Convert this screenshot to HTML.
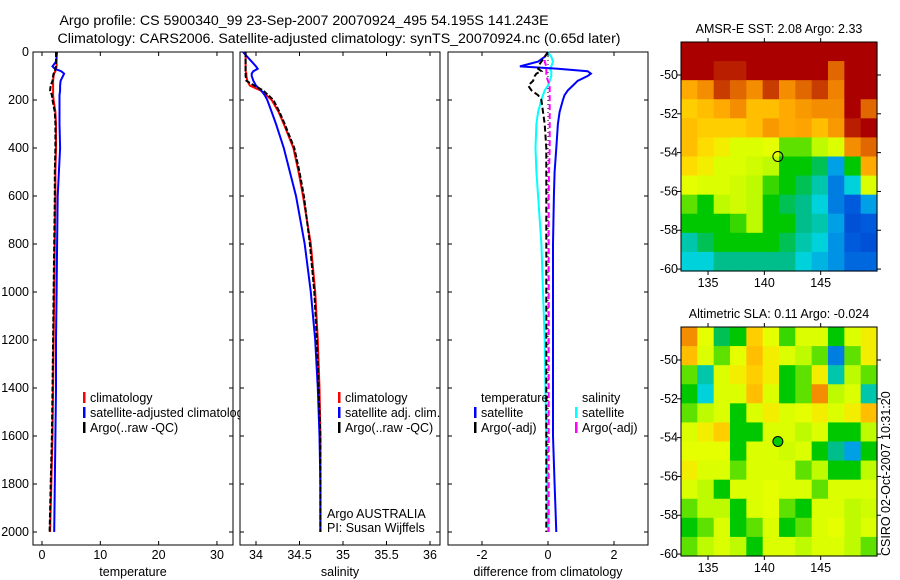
<!DOCTYPE html>
<html><head><meta charset="utf-8"><style>
body{margin:0;background:#fff}
svg{display:block;font-family:"Liberation Sans",sans-serif}
</style></head><body>
<svg id="fig" width="900" height="580" viewBox="0 0 900 580" xmlns="http://www.w3.org/2000/svg">
<defs><clipPath id="clipT"><rect x="0" y="0" width="240" height="580"/></clipPath></defs>
<text x="304" y="25" font-size="14.2" text-anchor="middle">Argo profile: CS 5900340_99 23-Sep-2007 20070924_495 54.195S 141.243E</text>
<text x="339" y="43" font-size="14.2" text-anchor="middle">Climatology: CARS2006. Satellite-adjusted climatology: synTS_20070924.nc (0.65d later)</text>
<text x="0" y="0" font-size="12.5" transform="translate(890,556) rotate(-90)">CSIRO 02-Oct-2007 10:31:20</text>
<g id="g"></g>
</svg>
<script>
// ---- profile data ----
const depths=[0,20,40,60,70,80,90,100,120,140,160,180,200,250,300,400,500,600,800,1000,1200,1400,1600,1800,2000];
const climT=[2.5,2.5,2.5,2.5,2.4,2.3,2.1,2.0,1.9,1.9,1.9,1.9,2.0,2.3,2.4,2.4,2.3,2.3,2.2,2.1,2.0,1.9,1.8,1.6,1.4];
const satT=[2.6,2.5,2.4,1.8,2.2,3.3,3.8,3.6,3.2,3.1,3.1,3.0,3.0,3.0,3.0,3.1,2.9,2.7,2.6,2.5,2.4,2.4,2.3,2.2,2.1];
const argoT=[2.4,2.4,2.4,2.4,2.3,2.2,2.0,1.9,1.8,1.5,1.4,1.7,1.8,2.2,2.3,2.3,2.2,2.2,2.1,2.0,1.9,1.8,1.7,1.5,1.3];
const climS=[33.88,33.88,33.88,33.88,33.88,33.88,33.89,33.89,33.9,33.93,34.05,34.12,34.18,34.26,34.32,34.43,34.49,34.54,34.63,34.68,34.71,34.73,34.74,34.74,34.74];
const satS=[33.85,33.9,33.95,34.0,34.02,33.97,33.95,33.95,33.97,34.0,34.06,34.1,34.13,34.18,34.23,34.32,34.39,34.46,34.56,34.63,34.68,34.71,34.73,34.74,34.74];
const argoS=[33.88,33.88,33.88,33.88,33.88,33.88,33.88,33.88,33.89,33.98,34.08,34.14,34.2,34.27,34.33,34.44,34.5,34.55,34.62,34.67,34.7,34.72,34.74,34.74,34.74];
const dSatT=[0,-0.1,-0.3,-0.85,0.3,1.2,1.3,1.2,0.9,0.75,0.6,0.5,0.45,0.35,0.3,0.25,0.2,0.18,0.15,0.15,0.15,0.15,0.15,0.2,0.25];
const dArgoT=[0,-0.1,-0.2,-0.3,-0.3,-0.2,-0.35,-0.4,-0.45,-0.6,-0.5,-0.3,-0.2,-0.15,-0.1,-0.05,-0.05,-0.05,-0.05,-0.05,-0.05,-0.05,-0.05,-0.05,-0.05];
const dSatS=[0,0.1,0.15,0.1,0.05,0.1,0.1,0.1,0.05,0,-0.1,-0.15,-0.2,-0.3,-0.35,-0.38,-0.35,-0.3,-0.2,-0.15,-0.1,-0.08,-0.05,-0.02,0];
const dArgoS=[0,-0.1,-0.1,-0.05,-0.05,-0.05,-0.05,-0.05,0,0.05,0.05,0.05,0.05,0.05,0.05,0.05,0.03,0.02,0.02,0.02,0.02,0.02,0.02,0.02,0.02];
const depthTicks=[0,200,400,600,800,1000,1200,1400,1600,1800,2000];
const tempTicks=[0,10,20,30];
const salTicks=[34,34.5,35,35.5,36];
const diffTicks=[-2,0,2];
// ---- map data (colormap index 0..1), rows north->south ----
const sstGrid=[
[1,1,1,1,1,1,1,1,1,1,1,1],
[1,1,0.95,0.95,1,1,1,1,1,0.85,1,1],
[0.75,0.8,0.9,0.85,0.8,0.9,0.8,0.85,0.9,0.82,1,1],
[0.7,0.72,0.75,0.8,0.72,0.72,0.75,0.78,0.8,0.8,1,0.85],
[0.72,0.7,0.7,0.7,0.72,0.78,0.75,0.76,0.72,0.78,0.95,1],
[0.72,0.68,0.65,0.6,0.6,0.62,0.5,0.5,0.55,0.6,0.8,0.85],
[0.68,0.65,0.6,0.6,0.58,0.55,0.45,0.45,0.42,0.3,0.45,0.75],
[0.62,0.6,0.6,0.58,0.55,0.48,0.45,0.42,0.38,0.25,0.35,0.6],
[0.5,0.45,0.55,0.58,0.55,0.45,0.42,0.4,0.35,0.25,0.2,0.3],
[0.45,0.45,0.45,0.48,0.55,0.45,0.45,0.4,0.38,0.3,0.18,0.2],
[0.38,0.42,0.45,0.45,0.45,0.45,0.42,0.38,0.35,0.28,0.2,0.18],
[0.35,0.35,0.4,0.4,0.4,0.4,0.4,0.35,0.32,0.28,0.22,0.22]];
const slaGrid=[
[0.8,0.62,0.42,0.45,0.7,0.62,0.48,0.6,0.6,0.45,0.6,0.65],
[0.72,0.6,0.5,0.62,0.72,0.65,0.6,0.55,0.5,0.25,0.5,0.65],
[0.5,0.38,0.6,0.65,0.7,0.65,0.45,0.5,0.65,0.38,0.55,0.5],
[0.45,0.35,0.6,0.6,0.72,0.6,0.45,0.5,0.8,0.55,0.6,0.38],
[0.5,0.55,0.6,0.45,0.6,0.65,0.6,0.62,0.65,0.6,0.65,0.72],
[0.6,0.65,0.7,0.45,0.45,0.6,0.6,0.55,0.6,0.45,0.45,0.55],
[0.62,0.62,0.62,0.45,0.6,0.6,0.58,0.6,0.45,0.4,0.3,0.45],
[0.65,0.6,0.6,0.5,0.6,0.6,0.6,0.5,0.55,0.45,0.45,0.55],
[0.6,0.55,0.45,0.6,0.6,0.62,0.6,0.6,0.5,0.6,0.6,0.6],
[0.5,0.55,0.55,0.45,0.6,0.62,0.5,0.45,0.6,0.6,0.55,0.58],
[0.45,0.5,0.6,0.45,0.5,0.6,0.45,0.5,0.6,0.62,0.55,0.6],
[0.5,0.55,0.6,0.55,0.45,0.6,0.6,0.55,0.6,0.6,0.55,0.5]];
const lonTicks=[135,140,145];
const latTicks=[-50,-52,-54,-56,-58,-60];
const floatLon=141.2, floatLat=-54.2;

const NS='http://www.w3.org/2000/svg';
const G=document.getElementById('g');
function mk(tag,attrs,parent,txt){const e=document.createElementNS(NS,tag);for(const k in attrs)e.setAttribute(k,attrs[k]);if(txt!==undefined)e.textContent=txt;(parent||G).appendChild(e);return e;}

const yTop=52, yBot=545, yScale=0.24;
const yD=d=>yTop+d*yScale;
const panels=[
 {name:'temperature',x0:33,x1:233,vmin:-1.54,vmax:32.75,ticks:tempTicks,label:'temperature'},
 {name:'salinity',x0:240,x1:440,vmin:33.816,vmax:36.115,ticks:salTicks,label:'salinity'},
 {name:'difference',x0:448,x1:648,vmin:-3.03,vmax:3.03,ticks:diffTicks,label:'difference from climatology'}];
panels.forEach(p=>{p.x=v=>p.x0+(v-p.vmin)/(p.vmax-p.vmin)*(p.x1-p.x0);});

function line(p,vals,color,dash,name,w){
  const pts=vals.map((v,i)=>p.x(v).toFixed(1)+','+yD(depths[i]).toFixed(1)).join(' ');
  const el=mk('polyline',{points:pts,fill:'none',stroke:color,'stroke-width':w||2});
  if(dash)el.setAttribute('stroke-dasharray',dash);
  
  
}
panels.forEach((p,pi)=>{
  const fr=mk('rect',{x:p.x0,y:yTop,width:p.x1-p.x0,height:yBot-yTop,fill:'#fff',stroke:'#000','stroke-width':1});
  
  
  p.ticks.forEach(t=>{
    const x=p.x(t);
    mk('line',{x1:x,x2:x,y1:yBot,y2:yBot-4,stroke:'#000'});
    mk('line',{x1:x,x2:x,y1:yTop,y2:yTop+4,stroke:'#000'});
    const tl=mk('text',{x:x,y:yBot+14,'font-size':12.5,'text-anchor':'middle'},G,String(t));
    
    
  });
  depthTicks.forEach(d=>{
    mk('line',{x1:p.x0,x2:p.x0+4,y1:yD(d),y2:yD(d),stroke:'#000'});
    mk('line',{x1:p.x1,x2:p.x1-4,y1:yD(d),y2:yD(d),stroke:'#000'});
  });
  const at=mk('text',{x:(p.x0+p.x1)/2,y:576,'font-size':12.5,'text-anchor':'middle'},G,p.label);
  
  
});
depthTicks.forEach(d=>{
  const t=mk('text',{x:29,y:yD(d)+4,'font-size':12.5,'text-anchor':'end'},G,String(d));
  
  
});
const [pT,pS,pD]=panels;
line(pT,climT,'#f00',null,'temp-climatology-line');
line(pT,satT,'#00f',null,'temp-satellite-line');
line(pT,argoT,'#000','5,2','temp-argo-line');
line(pS,climS,'#f00',null,'sal-climatology-line');
line(pS,satS,'#00f',null,'sal-satellite-line');
line(pS,argoS,'#000','5,2','sal-argo-line');
mk('line',{x1:pD.x(0),x2:pD.x(0),y1:yTop,y2:yD(2000),stroke:'#000','stroke-dasharray':'1,3'});
line(pD,dSatS,'#0ff',null,'diff-sal-satellite-line');
line(pD,dSatT,'#00f',null,'diff-temp-satellite-line');
line(pD,dArgoS,'#f0f','6,3','diff-sal-argo-line');
line(pD,dArgoT,'#000','6,3','diff-temp-argo-line');

function legend(x,y,color,label,name,clip){
  if(color){const b=mk('rect',{x:x,y:y-10,width:2.5,height:11,fill:color});}
  const t=mk('text',{x:x+7,y:y,'font-size':12.5},G,label);
  if(clip)t.setAttribute('clip-path','url(#clipT)');
  
  
}
legend(83,402,'#f00','climatology','temp-legend-climatology');
legend(83,417,'#00f','satellite-adjusted climatology','temp-legend-satellite',true);
legend(83,432,'#000','Argo(..raw -QC)','temp-legend-argo');
mk('line',{x1:240,x2:240,y1:380,y2:450,stroke:'#000'});
legend(338,402,'#f00','climatology','sal-legend-climatology');
legend(338,417,'#00f','satellite adj. clim.','sal-legend-satellite');
legend(338,432,'#000','Argo(..raw -QC)','sal-legend-argo');
legend(474,402,null,'temperature','diff-legend-temperature-header');
legend(474,417,'#00f','satellite','diff-legend-temp-satellite');
legend(474,432,'#000','Argo(-adj)','diff-legend-temp-argo');
legend(575,402,null,'salinity','diff-legend-salinity-header');
legend(575,417,'#0ff','satellite','diff-legend-sal-satellite');
legend(575,432,'#f0f','Argo(-adj)','diff-legend-sal-argo');
const a1=mk('text',{x:327,y:518,'font-size':12.5},G,'Argo AUSTRALIA');
const a2=mk('text',{x:327,y:532,'font-size':12.5},G,'PI: Susan Wijffels');

// ---- maps ----
const cmapStops=[[0,[0,0,150]],[0.2,[0,90,220]],[0.3,[0,160,230]],[0.35,[0,210,220]],[0.4,[0,190,140]],[0.45,[0,200,0]],[0.55,[190,250,0]],[0.62,[230,255,0]],[0.68,[255,220,0]],[0.75,[255,170,0]],[0.82,[240,130,0]],[0.9,[200,60,0]],[1,[170,0,0]]];
function cmap(v){
  for(let i=1;i<cmapStops.length;i++){
    const [a,ca]=cmapStops[i-1],[b,cb]=cmapStops[i];
    if(v<=b){const f=(v-a)/(b-a);return 'rgb('+ca.map((c,k)=>Math.round(c+(cb[k]-c)*f)).join(',')+')';}
  }
  return 'rgb(170,0,0)';
}
const lonMin=132.6,lonMax=150,latTop=-48.3,latBot=-60.1;
function drawMap(grid,x0,x1,y0,y1,name,title,dotFill){
  const lx=lon=>x0+(lon-lonMin)/(lonMax-lonMin)*(x1-x0);
  const ly=lat=>y0+(latTop-lat)/(latTop-latBot)*(y1-y0);
  const rows=grid.length,cols=grid[0].length;
  const cw=(x1-x0)/cols,ch=(y1-y0)/rows;
  const g=mk('g',{});
  
  
  grid.forEach((row,r)=>row.forEach((v,c)=>{
    const cell=mk('rect',{x:(x0+c*cw).toFixed(2),y:(y0+r*ch).toFixed(2),width:(cw+0.6).toFixed(2),height:(ch+0.6).toFixed(2),fill:cmap(v)},g);
    
    
  }));
  const fr=mk('rect',{x:x0,y:y0,width:x1-x0,height:y1-y0,fill:'none',stroke:'#000'});
  
  lonTicks.forEach(l=>{const x=lx(l);
    mk('line',{x1:x,x2:x,y1:y1,y2:y1+4,stroke:'#000'});mk('line',{x1:x,x2:x,y1:y0,y2:y0-4,stroke:'#000'});
    const t=mk('text',{x:x,y:y1+16,'font-size':12.5,'text-anchor':'middle'},G,String(l));});
  latTicks.forEach(l=>{const y=ly(l);
    mk('line',{x1:x0,x2:x0-4,y1:y,y2:y,stroke:'#000'});mk('line',{x1:x1,x2:x1+4,y1:y,y2:y,stroke:'#000'});
    const t=mk('text',{x:x0-3,y:y+4,'font-size':12.5,'text-anchor':'end'},G,String(l));});
  const tt=mk('text',{x:(x0+x1)/2,y:y0-9,'font-size':12.5,'text-anchor':'middle'},G,title);
  
  const dot=mk('circle',{cx:lx(floatLon),cy:ly(floatLat),r:5,fill:dotFill,stroke:'#000'});
  
}
drawMap(sstGrid,681,877,42,271,'sst-map','AMSR-E SST: 2.08 Argo: 2.33','none');
drawMap(slaGrid,681,877,327,556,'sla-map','Altimetric SLA: 0.11 Argo: -0.024','#0c0');
</script>
</body></html>
